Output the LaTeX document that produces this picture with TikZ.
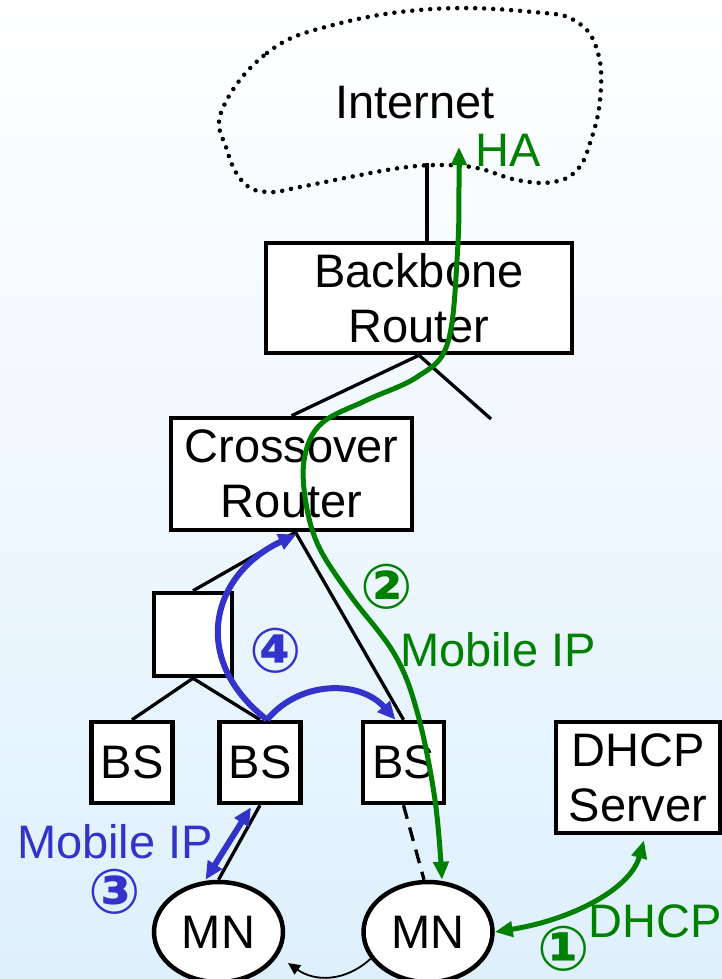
\documentclass[tikz,border=0pt]{standalone}
\usepackage{fontspec}
\setmainfont{Liberation Sans}
\newfontfamily\circfont{DejaVu Sans Bold}
\usetikzlibrary{shapes.geometric,arrows.meta}
\definecolor{netgreen}{RGB}{0,128,0}
\definecolor{netblue}{RGB}{51,51,204}
\definecolor{skytop}{RGB}{255,255,255}
\definecolor{skybot}{RGB}{222,240,252}
\tikzset{
	box/.style={draw, line width=4.5pt, fill=white, align=center, inner sep=0},
	link/.style={line width=3.3pt},
	greenpath/.style={draw=netgreen, line width=5pt, {Triangle[length=18pt,width=15pt]}-{Triangle[length=18pt,width=15pt]}},
	bluepath/.style={draw=netblue, line width=6pt, -{Triangle[length=18pt,width=16pt]}},
	circnum/.style={inner sep=0, font=\circfont\fontsize{62}{62}\selectfont},
}
\begin{document}
\begin{tikzpicture}[x=1pt, y=-1pt, every node/.style={font=\fontsize{47}{55}\selectfont}]
		\useasboundingbox (0,0) rectangle (722,979);
		\fill[top color=skytop, bottom color=skybot] (0,0) rectangle (722,979);
		% cloud
		\draw[line width=4.5pt, line cap=round, dash pattern=on 0pt off 9pt] plot[smooth cycle, tension=0.7] coordinates {(222,110) (267,53) (333,25) (433,9) (533,12) (577,22) (598,53) (600,100) (590,143) (577,170) (553,182) (517,180) (477,168) (440,165) (400,168) (350,177) (300,187) (267,192) (243,182) (227,150)};
		\node at (415,103) (inet) {Internet};
		\coordinate (cloudfoot) at (427,163);
		% routers
		\node[box, minimum width=306, minimum height=110] at (419,298) (bb) {Backbone\\Router};
		\node[box, minimum width=241, minimum height=112] at (291.5,474) (cr) {Crossover\\Router};
		\node[box, minimum width=78, minimum height=83] at (193,634.5) (sb) {};
		\node[box, minimum width=81, minimum height=81] at (132,762.5) (bs1) {BS};
		\node[box, minimum width=81, minimum height=81] at (260,762.5) (bs2) {BS};
		\node[box, minimum width=81, minimum height=81] at (403.5,762.5) (bs3) {BS};
		\node[box, minimum width=164, minimum height=111] at (638,777.5) (dhcp) {DHCP\\Server};
		\node[box, ellipse, minimum width=129, minimum height=100] at (218.5,932) (mn1) {MN};
		\node[box, ellipse, minimum width=129, minimum height=100] at (428,932) (mn2) {MN};
		\coordinate (bbleg) at (491,419);
		\coordinate (ha) at (459,147);
		\coordinate (mnmove) at (288,963);
		% wires
		\draw[link] (cloudfoot) -- ([xshift=8pt]bb.north);
		\draw[link] (bb.south) -- (cr.north);
		\draw[link] (bb.south) -- (bbleg);
		\draw[link] ([xshift=4pt]cr.south) -- (sb.north);
		\draw[link] ([xshift=4pt]cr.south) -- (bs3.north);
		\draw[link] (sb.south) -- (bs1.north);
		\draw[link] (sb.south) -- (bs2.north);
		\draw[link] (bs2.south) -- (mn1.north);
		\draw[link, dash pattern=on 14pt off 9pt] (bs3.south) -- ([xshift=-4pt]mn2.north);
		\draw[line width=1.8pt, -{Triangle[length=12pt,width=11pt]}] (mn2.-155) .. controls (345,982) and (315,982) .. (mnmove);
		% green: DHCP and Mobile IP
		\draw[greenpath] (mn2.east) .. controls (570,920) and (630,890) .. ([xshift=6pt, yshift=-5pt]dhcp.south);
		\draw[greenpath] plot[smooth, tension=0.6] coordinates {(ha) (457,260) (447,345) (417,377) (367,400) (322,423) (305,455) (305,497) (318,545) (350,595) (395,655) (418,715) (435,800) ([xshift=14pt]mn2.north)};
		\node[text=netgreen] at (508,150) (halabel) {HA};
		\node[text=netgreen] at (498,650) (gmip) {Mobile IP};
		\node[text=netgreen] at (655,921) (gdhcp) {DHCP};
		\node[circnum, text=netgreen] at (387,587) (two) {②};
		\node[circnum, text=netgreen] at (564,949) (one) {①};
		% blue: handoff
		\draw[bluepath, {Triangle[length=18pt,width=16pt]}-{Triangle[length=18pt,width=16pt]}] ([xshift=-9pt, yshift=-2pt]bs2.south) -- ([xshift=-13pt]mn1.north);
		\draw[bluepath] ([xshift=7pt]bs2.north) .. controls (190,660) and (210,575) .. ([xshift=5pt, yshift=-2pt]cr.south);
		\draw[bluepath] ([xshift=7pt]bs2.north) .. controls (300,680) and (360,680) .. ([xshift=-8pt]bs3.north);
		\node[text=netblue] at (115,842) (bmip) {Mobile IP};
		\node[circnum, text=netblue] at (115,892) (three) {③};
		\node[circnum, text=netblue] at (276,651) (four) {④};
	\end{tikzpicture}
\end{document}
